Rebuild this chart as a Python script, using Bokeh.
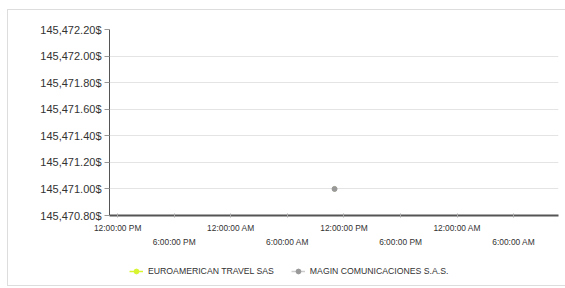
from datetime import datetime
from bokeh.plotting import figure
from bokeh.layouts import column
from bokeh.models import (FixedTicker, CustomJSTickFormatter, DatetimeAxis, Legend,
                          LegendItem, Range1d)
from bokeh.embed import file_html
from bokeh.resources import INLINE

# ---- data ----
series_names = ["EUROAMERICAN TRAVEL SAS", "MAGIN COMUNICACIONES S.A.S."]
series_colors = ["#d8f530", "#a8a8a8"]
euro_x = [datetime(2024, 1, 2, 11, 0)]
euro_y = [145471.00]
magin_x = [datetime(2024, 1, 2, 11, 0)]
magin_y = [145471.00]

y_ticks = [145470.8, 145471.0, 145471.2, 145471.4, 145471.6, 145471.8, 145472.0, 145472.2]

x_tick_dates = [datetime(2024, 1, 1, 12), datetime(2024, 1, 1, 18), datetime(2024, 1, 2, 0),
                datetime(2024, 1, 2, 6), datetime(2024, 1, 2, 12), datetime(2024, 1, 2, 18),
                datetime(2024, 1, 3, 0), datetime(2024, 1, 3, 6)]
x_tick_labels = ["12:00:00 PM", "6:00:00 PM", "12:00:00 AM", "6:00:00 AM",
                 "12:00:00 PM", "6:00:00 PM", "12:00:00 AM", "6:00:00 AM"]

x_start = datetime(2024, 1, 1, 11, 8)
x_end = datetime(2024, 1, 3, 10, 45)


def ms(d):
    return (d - datetime(1970, 1, 1)).total_seconds() * 1000.0


tick_ms = [ms(d) for d in x_tick_dates]
row1_ticks = tick_ms[0::2]
row2_ticks = tick_ms[1::2]
xs_list = [[ms(d) for d in euro_x], [ms(d) for d in magin_x]]
ys_list = [euro_y, magin_y]

p = figure(width=561, height=245, output_backend="svg", toolbar_location=None,
           x_axis_type="datetime",
           x_range=Range1d(ms(x_start), ms(x_end)),
           y_range=Range1d(y_ticks[0], y_ticks[-1]),
           min_border_left=101, min_border_right=11, min_border_top=19, min_border_bottom=40)
p.outline_line_color = None
p.background_fill_color = "white"
p.border_fill_color = "white"

# y axis
yax = p.yaxis[0]
yax.ticker = FixedTicker(ticks=y_ticks)
yax.formatter = CustomJSTickFormatter(code="""
return tick.toLocaleString('en-US', {minimumFractionDigits: 2, maximumFractionDigits: 2}) + '$';
""")
yax.axis_line_color = "#555555"
yax.axis_line_width = 1
yax.major_tick_line_color = "#999999"
yax.major_tick_out = 5
yax.major_tick_in = 0
yax.minor_tick_line_color = None
yax.major_label_text_font = "Liberation Sans"
yax.major_label_text_font_size = "11px"
yax.major_label_text_color = "#333333"
yax.major_label_standoff = 3

p.ygrid.grid_line_color = "#e4e4e4"
p.ygrid.grid_line_width = 1
p.xgrid.grid_line_color = None

# x axis (row 1)
fmt_code = """
const i = tk.indexOf(tick);
return i >= 0 ? lb[i] : '';
"""
xax = p.xaxis[0]
xax.ticker = FixedTicker(ticks=tick_ms)
xax.formatter = CustomJSTickFormatter(args=dict(tk=row1_ticks, lb=x_tick_labels[0::2]), code=fmt_code)
xax.axis_line_color = "#555555"
xax.axis_line_width = 2
xax.major_tick_line_color = "#aaaaaa"
xax.major_tick_in = 2
xax.major_tick_out = 2
xax.minor_tick_line_color = None
xax.major_label_text_font = "Liberation Sans"
xax.major_label_text_font_size = "8.4px"
xax.major_label_text_color = "#333333"
xax.major_label_standoff = 5

# x axis (row 2, staggered labels)
xax2 = DatetimeAxis(ticker=FixedTicker(ticks=row2_ticks),
                    formatter=CustomJSTickFormatter(args=dict(tk=row2_ticks, lb=x_tick_labels[1::2]), code=fmt_code))
xax2.axis_line_color = None
xax2.major_tick_line_color = None
xax2.minor_tick_line_color = None
xax2.major_label_text_font = "Liberation Sans"
xax2.major_label_text_font_size = "8.4px"
xax2.major_label_text_color = "#333333"
xax2.major_label_standoff = -5
p.add_layout(xax2, "below")

# series (first drawn first, second on top)
point_colors = ["#d8f530", "#999999"]
point_sizes = [4, 5]
for color, pc, sz, xs, ys in zip(series_colors, point_colors, point_sizes, xs_list, ys_list):
    p.line(xs, ys, line_color=color, line_width=1.5)
    p.scatter(xs, ys, size=sz, fill_color=pc, line_color=pc)

# legend strip (separate figure so the legend is not clipped)
lf = figure(width=561, height=30, output_backend="svg", toolbar_location=None,
            x_axis_location=None, y_axis_location=None,
            min_border=0, min_border_left=0, min_border_right=0,
            min_border_top=0, min_border_bottom=0)
lf.outline_line_color = None
lf.grid.visible = False
lf.background_fill_color = "white"
lf.border_fill_color = "white"
items = []
legend_line_colors = ["#d8f530", "#cccccc"]
for name, lc, pc, xs, ys in zip(series_names, legend_line_colors, point_colors, xs_list, ys_list):
    ln = lf.line(xs, ys, line_color=lc, line_width=1.5, visible=False)
    sc = lf.scatter(xs, ys, size=4, fill_color=pc, line_color=pc, visible=False)
    items.append(LegendItem(label=name, renderers=[ln, sc]))

legend = Legend(items=items, orientation="horizontal", location=(20, 8),
                border_line_color=None, background_fill_alpha=0,
                inactive_fill_alpha=0,
                label_text_font="Liberation Sans", label_text_font_size="8.7px",
                label_text_color="#333333", glyph_width=14, glyph_height=12,
                label_standoff=5, spacing=17, padding=0, margin=0,
                label_height=12)
lf.add_layout(legend, "center")

layout = column(p, lf, spacing=0,
                styles={"border": "1px solid #dddddd", "margin-left": "7px", "margin-top": "9px"})

open("out.html", "w").write(file_html(layout, INLINE))
